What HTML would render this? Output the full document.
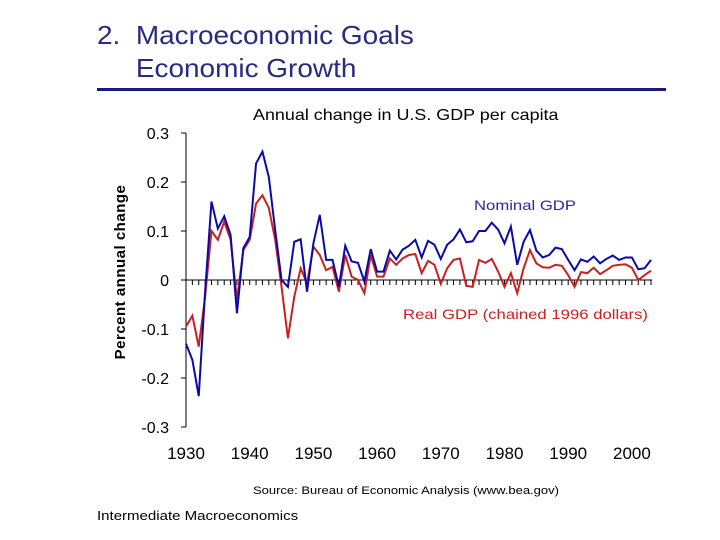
<!DOCTYPE html>
<html><head><meta charset="utf-8"><style>
body{margin:0;width:720px;height:540px;background:#fff;overflow:hidden;font-family:"Liberation Sans",sans-serif;}
.t{position:absolute;white-space:nowrap;transform-origin:0 0;}
</style></head><body>
<div class="t" style="left:97px;top:19px;font-size:26px;color:#2a2a80;line-height:33px;transform:scaleX(1.075);">2.&nbsp; Macroeconomic Goals<br>&nbsp;&nbsp;&nbsp;&nbsp; Economic Growth</div>
<div style="position:absolute;left:97px;top:88px;width:569px;height:3px;background:#1a1a80;"></div>
<div class="t" style="left:253px;top:107px;font-size:16px;transform:scaleX(1.12);">Annual change in U.S. GDP per capita</div>
<div class="t" style="left:253px;top:485px;font-size:11px;transform:scaleX(1.18);">Source: Bureau of Economic Analysis (www.bea.gov)</div>
<div class="t" style="left:97px;top:508px;font-size:13px;transform:scaleX(1.155);">Intermediate Macroeconomics</div>
<svg id="c" width="720" height="540" style="position:absolute;left:0;top:0"></svg>
<script>
const years=[];for(let y=1930;y<=2003;y++)years.push(y);
const nominal=[-0.13,-0.163,-0.237,-0.024,0.16,0.105,0.13,0.092,-0.068,0.065,0.088,0.238,0.262,0.21,0.102,0.0,-0.014,0.078,0.083,-0.024,0.075,0.133,0.041,0.041,-0.014,0.07,0.038,0.035,-0.003,0.063,0.017,0.017,0.06,0.042,0.062,0.07,0.082,0.046,0.08,0.072,0.043,0.072,0.083,0.103,0.077,0.079,0.1,0.1,0.117,0.103,0.075,0.109,0.031,0.078,0.102,0.06,0.046,0.051,0.066,0.063,0.041,0.02,0.042,0.037,0.048,0.034,0.043,0.05,0.041,0.046,0.046,0.022,0.024,0.041];
const real=[-0.095,-0.073,-0.136,-0.034,0.1,0.082,0.119,0.082,-0.041,0.061,0.082,0.156,0.173,0.147,0.082,-0.014,-0.119,-0.034,0.024,-0.007,0.068,0.051,0.02,0.027,-0.024,0.051,0.007,0.0,-0.027,0.051,0.007,0.007,0.044,0.031,0.044,0.051,0.053,0.014,0.039,0.031,-0.008,0.024,0.041,0.044,-0.012,-0.014,0.041,0.035,0.043,0.017,-0.014,0.014,-0.027,0.024,0.061,0.034,0.026,0.025,0.031,0.029,0.01,-0.014,0.016,0.014,0.025,0.012,0.02,0.029,0.031,0.032,0.025,0.0,0.01,0.019];
const yTicks=[0.3,0.2,0.1,0,-0.1,-0.2,-0.3];
const xTicks=[1930,1940,1950,1960,1970,1980,1990,2000];
const X=y=>186+(y-1930)*6.37, Y=v=>280-v*490;
const s=document.getElementById('c'),NS='http://www.w3.org/2000/svg';
function mk(t,a){const e=document.createElementNS(NS,t);for(const k in a)e.setAttribute(k,a[k]);s.appendChild(e);return e;}
let e=mk('line',{x1:186,y1:Y(0.3),x2:186,y2:Y(-0.3),stroke:'#000'});

e=mk('line',{x1:186,y1:280,x2:652,y2:280,stroke:'#000'});

for(let y=1930;y<=2003;y++){e=mk('line',{x1:X(y),y1:280,x2:X(y),y2:285,stroke:'#000'});
}
yTicks.forEach(v=>{e=mk('line',{x1:181,y1:Y(v),x2:186,y2:Y(v),stroke:'#000'});

e=mk('text',{x:169,y:Y(v)+6,'text-anchor':'end','font-size':16,'font-family':'Liberation Sans, sans-serif'});
e.textContent=v===0?'0':String(v);
});
xTicks.forEach(y=>{e=mk('text',{x:X(y),y:459,'text-anchor':'middle','font-size':17,'font-family':'Liberation Sans, sans-serif'});
e.textContent=y;});
e=mk('text',{transform:'translate(125,272) rotate(-90)','text-anchor':'middle','font-size':15,'font-weight':'bold','letter-spacing':'0.5','font-family':'Liberation Sans, sans-serif'});
e.textContent='Percent annual change';
e=mk('polyline',{points:real.map((v,i)=>X(years[i])+','+Y(v)).join(' '),fill:'none',stroke:'#cc1f1f','stroke-width':2});

e=mk('polyline',{points:nominal.map((v,i)=>X(years[i])+','+Y(v)).join(' '),fill:'none',stroke:'#0a0aa8','stroke-width':2});

e=mk('text',{x:474,y:210,'font-size':14,fill:'#2a2a9a',textLength:102,lengthAdjust:'spacingAndGlyphs','font-family':'Liberation Sans, sans-serif'});
e.textContent='Nominal GDP';
e=mk('text',{x:403,y:319,'font-size':14,fill:'#cc1f1f',textLength:245,lengthAdjust:'spacingAndGlyphs','font-family':'Liberation Sans, sans-serif'});
e.textContent='Real GDP (chained 1996 dollars)';
</script>
</body></html>
